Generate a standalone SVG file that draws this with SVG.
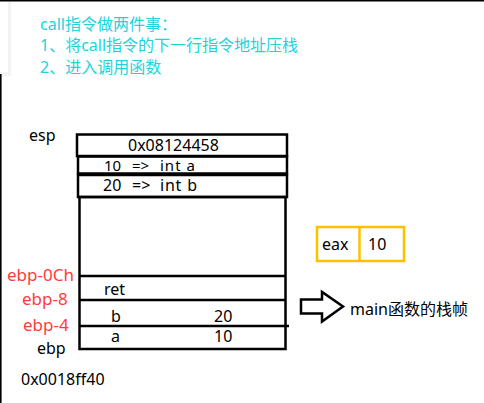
<svg xmlns="http://www.w3.org/2000/svg" width="484" height="403" viewBox="0 0 484 403">
<style>
text{font-family:"Noto Sans","Noto Sans CJK SC",sans-serif;fill:#000;font-size:16px}
.cy{fill:#22D3DB;font-size:16px}
.red{fill:#FF3B3B;font-size:17px}
.sm{font-size:15px}
.box{fill:none;stroke:#000;stroke-width:2.5}
.ln{stroke:#000;stroke-width:2.5}
.yb{fill:none;stroke:#FFC000;stroke-width:2.5}
</style>
<g id="frame">
<rect x="0" y="0" width="484" height="403" fill="#fff"/>
<rect x="8" y="2" width="3" height="73" fill="#f2f2f2"/>
<rect x="0" y="72" width="11" height="4" fill="#f4f4f4"/>
<line x1="0" y1="0.8" x2="484" y2="0.8" stroke="#000" stroke-width="1.6"/>
<line x1="0.8" y1="74" x2="0.8" y2="403" stroke="#000" stroke-width="1.6"/>
</g>
<g id="title">
<text class="cy" x="40" y="30">call指令做两件事：</text>
<text class="cy" x="40" y="51">1、将call指令的下一行指令地址压栈</text>
<text class="cy" x="40" y="73">2、进入调用函数</text>
</g>
<g id="labels">
<text x="29" y="141" font-size="15">esp</text>
<text class="red" x="7" y="281">ebp-0Ch</text>
<text class="red" x="22" y="305">ebp-8</text>
<text class="red" x="23" y="331">ebp-4</text>
<text x="37" y="354" font-size="17">ebp</text>
<text x="21" y="385" font-size="15">0x0018ff40</text>
</g>
<g id="stack">
<rect class="box" x="77" y="134.5" width="210" height="21.5"/>
<rect class="box" x="78" y="156.5" width="209" height="17"/>
<rect class="box" x="78" y="175" width="209" height="22"/>
<rect class="box" x="79.5" y="197" width="206" height="152"/>
<line class="ln" x1="79.5" y1="276" x2="285.5" y2="276"/>
<line class="ln" x1="79.5" y1="300" x2="285.5" y2="300"/>
<line class="ln" x1="79.5" y1="326" x2="289" y2="326"/>
<text x="128" y="151">0x08124458</text>
<text class="sm" x="104" y="171">10</text><text class="sm" x="132" y="171">=&gt;</text><text class="sm" x="160" y="171" letter-spacing="1">int a</text>
<text x="103" y="191">20</text><text x="132" y="191">=&gt;</text><text x="160" y="191" letter-spacing="0.8">int b</text>
<text x="104" y="295">ret</text>
<text x="111" y="322">b</text><text x="214" y="322">20</text>
<text x="111" y="342">a</text><text x="214" y="342">10</text>
</g>
<g id="eax">
<rect class="yb" x="317" y="227" width="87" height="34"/>
<line x1="359.5" y1="227" x2="359.5" y2="261" stroke="#FFC000" stroke-width="2.5"/>
<text x="322" y="250">eax</text>
<text x="368" y="250">10</text>
</g>
<g id="connectors">
<polygon points="301,299.5 322,299.5 322,292 343,306.5 322,321.5 322,313.5 301,313.5" fill="#fff" stroke="#000" stroke-width="2.5" stroke-linejoin="miter"/>
</g>
<g id="mainframe">
<text x="350" y="315">main函数的栈帧</text>
</g>
</svg>
